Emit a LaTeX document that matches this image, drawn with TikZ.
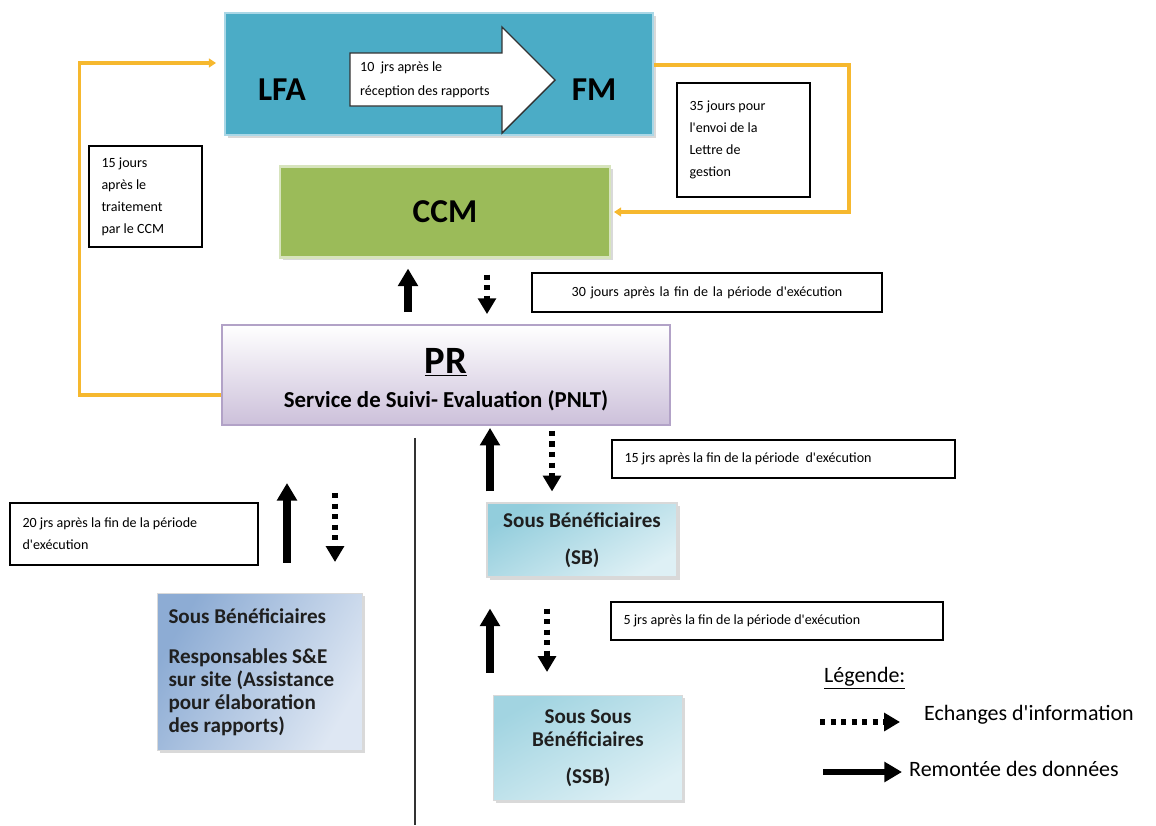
\documentclass[tikz,border=0pt]{standalone}
\usepackage{fontspec}
\setmainfont{Carlito}
\usetikzlibrary{calc,arrows.meta,shadows}

\definecolor{lfablue}{RGB}{75,172,198}
\definecolor{lfaedge}{RGB}{170,215,230}
\definecolor{ccmgreen}{RGB}{155,187,89}
\definecolor{ccmedge}{RGB}{215,228,189}
\definecolor{prlilac}{RGB}{204,192,218}
\definecolor{predge}{RGB}{178,162,199}
\definecolor{sbteal}{RGB}{146,205,220}
\definecolor{sblight}{RGB}{222,240,245}
\definecolor{lsbblue}{RGB}{141,172,212}
\definecolor{lsblight}{RGB}{222,231,243}
\definecolor{feedback}{RGB}{246,184,46}
\newcommand{\apos}{\textquotesingle}

\begin{document}
\begin{tikzpicture}[x=0.02cm, y=-0.02cm,
  every node/.style={font=\fontsize{8}{12.5}\selectfont},
  note/.style={draw, line width=1pt, fill=white, inner xsep=0.25cm, align=flush left},
  title/.style={font=\bfseries\fontsize{19}{22}\selectfont},
  benef/.style={draw=white!85!black, line width=0.6pt, text=black!88,
    drop shadow={shadow xshift=1.5pt, shadow yshift=-1.5pt, opacity=0.3}},
  flowup/.style={line width=4pt, -{Triangle[width=11pt,length=10pt]}},
  flowinfo/.style={line width=3pt, dash pattern=on 3pt off 3pt, -{Triangle[width=10pt,length=9pt]}},
  feedline/.style={feedback, line width=1.8pt, -{Triangle[width=5pt,length=4pt]}}]
\useasboundingbox (0,0) rectangle (1156,825);

% LFA / FM block
\node[fill=lfablue, draw=lfaedge, line width=1.2pt, minimum width=8.56cm, minimum height=2.44cm,
  drop shadow={shadow xshift=1.5pt, shadow yshift=-1.5pt, opacity=0.3}] (lfafm) at (439,74) {};
\draw[fill=white, draw=black!80, line width=0.8pt] (350,53) -- (502,53) -- (502,27) -- (555,80)
  -- (502,133) -- (502,106) -- (350,106) -- cycle;
\node[anchor=west, align=flush left, font=\fontsize{8}{13.5}\selectfont] (delaifm) at (354,80) {10 \ jrs après le\\réception des rapports};
\node[title, anchor=base] (lfa) at (282,100) {LFA};
\node[title, anchor=base] (fm) at (594,100) {FM};

% CCM
\node[title, fill=ccmgreen, draw=ccmedge, line width=1.2pt, minimum width=6.6cm, minimum height=1.82cm,
  drop shadow={shadow xshift=1.5pt, shadow yshift=-1.5pt, opacity=0.3}] (ccm) at (445,212) {CCM};

% PR
\node[top color=white, bottom color=prlilac, draw=predge, line width=1pt,
  minimum width=8.96cm, minimum height=2cm] (pr) at (446,375) {};
\node[anchor=base, font=\bfseries\fontsize{22}{24}\selectfont] (prtitle) at (446,373) {\underline{PR}};
\node[anchor=base, font=\bfseries\fontsize{13}{15}\selectfont] (prservice) at (446,407) {Service de Suivi- Evaluation (PNLT)};

% Sous beneficiaires
\node[benef, top color=sbteal, bottom color=sblight, shading angle=30, minimum width=3.8cm, minimum height=1.48cm,
  align=center, font=\bfseries\fontsize{12}{21}\selectfont] (sb) at (582,540) {Sous Bénéficiaires\\(SB)};
\node[benef, left color=lsbblue, right color=lsblight, shading angle=60, minimum width=4.1cm, minimum height=3.14cm,
  inner xsep=0.22cm, text width=3.66cm, align=flush left, font=\bfseries\fontsize{12}{13}\selectfont] (lsb) at (260,672)
  {Sous Bénéficiaires\\[10pt]Responsables S\&E\\sur site (Assistance\\pour élaboration\\des rapports)};
\node[benef, top color=sbteal!85, bottom color=sblight, shading angle=30, minimum width=3.78cm, minimum height=2.1cm,
  align=center, font=\bfseries\fontsize{12}{13}\selectfont] (ssb) at (588,748) {Sous Sous\\Bénéficiaires\\[8pt](SSB)};

% Delais
\node[note, minimum width=2.26cm, minimum height=2.02cm, text width=1.76cm] (delaiccm) at (145.5,196.5)
  {15 jours\\après le\\traitement\\par le CCM};
\node[note, minimum width=2.66cm, minimum height=2.28cm, text width=2.16cm] (delailettre) at (743.5,140)
  {35 jours pour\\l\apos envoi de la\\Lettre de\\gestion};
\node[note, minimum width=7cm, minimum height=0.78cm, text width=6.5cm, align=center] (delaipr) at (707,292.5)
  {30 jours après la fin de la période d\apos exécution};
\node[note, minimum width=6.86cm, minimum height=0.76cm, text width=6.36cm] (delaisb) at (783.5,459)
  {15 jrs après la fin de la période \ d\apos exécution};
\node[note, minimum width=4.96cm, minimum height=1.24cm, text width=4.46cm] (delaisite) at (134,534)
  {20 jrs après la fin de la période\\d\apos exécution};
\node[note, minimum width=6.64cm, minimum height=0.76cm, text width=6.14cm] (delaissb) at (777,621)
  {5 jrs après la fin de la période d\apos exécution};

% Remontee et echanges
\draw[flowup] ($(pr.north)+(-38,-12)$) -- ($(ccm.south)+(-37,10)$);
\draw[flowinfo] ($(ccm.south)+(42,16)$) -- ($(pr.north)+(41,-10)$);
\draw[flowup] ($(sb.north)+(-92,-11)$) -- ($(pr.south)+(44,2)$);
\draw[flowinfo] ($(pr.south)+(106,5)$) -- ($(sb.north)+(-30,-11)$);
\draw[flowup] ($(lsb.north)+(27,-30)$) -- ($(lsb.north)+(27,-110)$);
\draw[flowinfo] ($(lsb.north)+(75,-100)$) -- ($(lsb.north)+(75,-31)$);
\draw[flowup] ($(ssb.north)+(-98,-22)$) -- ($(sb.south)+(-92,31)$);
\draw[flowinfo] ($(sb.south)+(-35,31)$) -- ($(ssb.north)+(-41,-23)$);

% Retours (orange)
\draw[feedline] ($(lfafm.east)+(0,-9)$) -- ++(195,0) |- ($(ccm.east)+(3,0)$);
\draw[feedline] ($(pr.west)+(0,20)$) -- ++(-142,0) |- ($(lfafm.west)+(-8,-11)$);

% Separation
\coordinate (splittop) at ($(pr.south)+(-31,12)$);
\coordinate (splitbot) at (415,825);
\draw[line width=0.8pt, black!80] (splittop) -- (splitbot);

% Legende
\node[anchor=base west, font=\fontsize{12.5}{14}\selectfont] (legende) at (818,682) {\underline{Légende:}};
\coordinate (infostart) at (820,722);
\coordinate (infoend) at (900,722);
\draw[flowinfo] (infostart) -- (infoend);
\node[anchor=base west, font=\fontsize{12.5}{14}\selectfont] (echanges) at (918,720) {Echanges d\apos information};
\coordinate (upstart) at (823,772);
\coordinate (upend) at (902,772);
\draw[flowup, line width=3pt] (upstart) -- (upend);
\node[anchor=base west, font=\fontsize{12.5}{14}\selectfont] (remontee) at (903,776) {Remontée des données};
\end{tikzpicture}
\end{document}
